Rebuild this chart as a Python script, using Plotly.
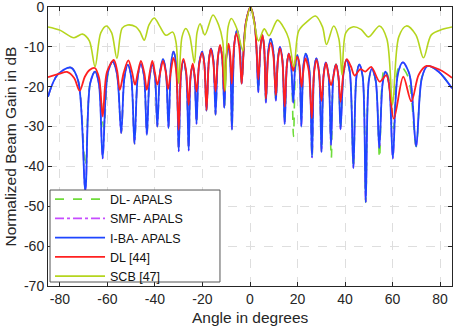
import plotly.graph_objects as go

# ---- data (angle in degrees, normalized gain in dB) ----

IBA_ANGLE = [-85, -81, -75.4, -72.3, -69.3, -67.3, -65.2, -63.6, -62.0, -59.9, -57.8, -56.0,
             -54.2, -52.8, -51.4, -50.0, -48.6, -47.2, -45.9, -44.6, -43.4, -42.2, -41.1, -40.0,
             -39.0, -37.8, -36.6, -35.4, -34.3, -33.2, -32.2, -31.1, -30.0, -29.0, -28.0, -26.9,
             -25.8, -25.0, -24.1, -23.3, -22.5, -21.4, -20.1, -19.2, -18.3, -17.3, -16.4, -15.4,
             -14.5, -13.5, -12.6, -11.7, -10.8, -10.0, -9.2, -8.4, -7.6, -6.5, -5.4, -4.4,
             -3.5, -2.6, -1.75, 0.2, 1.9, 2.7, 3.5, 4.4, 5.2, 5.95, 6.7, 7.7,
             8.7, 9.8, 10.9, 11.75, 12.6, 13.6, 14.6, 15.5, 16.3, 17.3, 18.2, 19.0,
             19.9, 20.8, 21.6, 22.5, 23.4, 24.8, 26.1, 27.0, 27.9, 29.0, 30.1, 31.0,
             31.9, 33.0, 34.1, 35.1, 36.2, 37.2, 38.1, 39.4, 40.6, 42.0, 43.5, 44.8,
             46.0, 47.4, 48.7, 50.0, 51.3, 52.9, 54.4, 55.8, 57.0, 58.5, 60.1, 62.2,
             64.3, 67.1, 69.9, 72.3, 74.7, 79.5, 85]
IBA_DB = [-22.5, -17.0, -15.2, -18.5, -46.0, -19.3, -16.2, -19.2, -38.0, -16.7, -13.7, -16.7,
          -31.6, -17.5, -14.5, -17.5, -34.3, -17.3, -14.3, -17.3, -32.1, -17.5, -14.5, -17.5,
          -30.0, -16.1, -13.1, -16.1, -30.4, -14.2, -11.2, -14.2, -36.2, -16.6, -13.6, -16.6,
          -36.0, -17.6, -14.6, -17.6, -29.3, -14.2, -11.2, -14.2, -26.0, -13.4, -10.4, -13.4,
          -27.0, -12.8, -9.8, -12.8, -25.3, -12.8, -9.8, -12.8, -30.8, -8.8, -5.8, -8.8,
          -19.2, -10.0, -4.0, 0.0, -4.0, -10.0, -21.4, -10.1, -7.1, -10.1, -24.0, -11.0,
          -8.0, -11.0, -23.5, -13.0, -10.0, -13.0, -29.4, -14.7, -11.7, -14.7, -24.0, -15.0,
          -12.0, -15.0, -30.0, -14.7, -11.7, -14.7, -37.75, -15.9, -12.9, -15.9, -36.4, -16.9,
          -13.9, -16.9, -34.6, -17.4, -14.4, -17.4, -30.7, -16.3, -13.3, -16.3, -40.4, -17.4,
          -14.4, -17.4, -49.0, -18.5, -15.5, -18.5, -35.4, -19.2, -16.2, -19.2, -38.0, -16.9,
          -13.9, -16.9, -35.0, -17.8, -14.8, -16.3, -20.4]

APALS_ANGLE = [-85, -81, -75.4, -72.3, -69.3, -67.3, -65.2, -63.4, -61.5, -59.7, -57.8, -56.0,
               -54.2, -52.8, -51.4, -50.0, -48.6, -47.2, -45.9, -44.6, -43.4, -42.2, -41.1, -40.0,
               -39.0, -37.8, -36.6, -35.4, -34.3, -33.2, -32.2, -31.1, -30.0, -29.0, -28.0, -26.9,
               -25.8, -25.0, -24.1, -23.3, -22.5, -21.4, -20.1, -19.2, -18.3, -17.3, -16.4, -15.4,
               -14.5, -13.5, -12.6, -11.7, -10.8, -10.0, -9.2, -8.4, -7.6, -6.5, -5.4, -4.4,
               -3.5, -2.6, -1.75, 0.2, 1.9, 2.7, 3.5, 4.4, 5.2, 5.95, 6.7, 7.7,
               8.7, 9.8, 10.9, 11.75, 12.6, 13.6, 14.6, 15.5, 16.3, 17.3, 18.3, 19.2,
               20.0, 20.8, 21.6, 22.5, 23.4, 24.8, 26.1, 27.0, 27.9, 29.0, 30.1, 31.0,
               31.9, 33.0, 34.2, 35.1, 36.2, 37.2, 38.1, 39.4, 40.6, 42.0, 43.5, 44.8,
               46.0, 47.4, 48.7, 50.0, 51.3, 52.9, 54.5, 55.6, 56.6, 58.6, 60.4, 61.6,
               63.0, 66.5, 69.9, 72.3, 74.7, 79.5, 85]
APALS_DB = [-22.5, -17.0, -15.2, -18.5, -40.0, -19.3, -16.2, -19.2, -30.5, -16.7, -13.7, -16.7,
            -31.6, -17.5, -14.5, -17.5, -34.3, -17.3, -14.3, -17.3, -32.1, -17.5, -14.5, -17.5,
            -30.0, -16.1, -13.1, -16.1, -30.4, -14.2, -11.2, -14.2, -36.2, -16.6, -13.6, -16.6,
            -36.0, -17.6, -14.6, -17.6, -29.3, -14.2, -11.2, -14.2, -26.0, -13.4, -10.4, -13.4,
            -27.0, -12.8, -9.8, -12.8, -26.0, -12.8, -9.8, -12.8, -30.8, -8.8, -5.8, -8.8,
            -19.2, -10.0, -4.0, 0.0, -4.0, -10.0, -21.4, -10.1, -7.1, -10.1, -24.0, -11.0,
            -8.0, -11.0, -23.5, -13.0, -10.0, -13.0, -29.4, -14.7, -11.7, -14.7, -32.5, -15.0,
            -12.3, -15.0, -28.0, -14.7, -11.7, -14.7, -37.75, -15.9, -12.9, -15.9, -36.4, -16.9,
            -13.9, -16.9, -38.0, -17.4, -14.4, -17.4, -30.7, -16.3, -13.3, -16.3, -40.4, -17.4,
            -14.4, -17.4, -49.0, -18.5, -15.5, -18.5, -38.0, -18.4, -15.4, -18.4, -30.5, -17.5,
            -14.6, -17.5, -35.0, -17.8, -14.8, -16.3, -20.4]

DL44_ANGLE = [-85, -80, -77.0, -74.0, -71.7, -69.5, -67.5, -65.3, -63.5, -62.0, -60.2, -57.3,
              -55.9, -54.8, -53.1, -51.2, -49.6, -48.4, -47.2, -45.9, -44.5, -43.4, -42.2, -41.1,
              -40.0, -39.0, -37.8, -36.6, -35.4, -34.5, -33.2, -32.2, -31.1, -30.0, -29.0, -28.0,
              -26.9, -25.8, -25.0, -24.1, -23.3, -22.5, -21.4, -20.2, -19.2, -18.3, -17.3, -16.5,
              -15.5, -14.5, -13.5, -12.6, -11.7, -10.8, -9.9, -9.0, -8.3, -7.7, -6.7, -5.8,
              -4.6, -3.5, -2.6, -1.75, 0.2, 1.9, 2.7, 3.5, 4.4, 5.2, 5.95, 6.7,
              7.7, 8.7, 9.8, 10.9, 11.75, 12.6, 13.6, 14.6, 15.5, 16.3, 17.3, 18.2,
              19.1, 19.9, 20.8, 21.7, 22.5, 23.3, 24.7, 26.0, 27.0, 28.0, 29.0, 30.1,
              31.0, 32.0, 33.0, 34.1, 35.1, 36.2, 37.2, 38.1, 39.4, 40.7, 42.4, 44.0,
              46.5, 48.5, 51.0, 54.6, 57.4, 60.5, 64.5, 67.9, 71.0, 74.3, 80.0, 85]
DL44_DB = [-17.6, -16.7, -16.3, -17.8, -21.0, -17.5, -15.8, -15.3, -17.8, -27.5, -16.3, -13.3,
           -16.0, -20.8, -16.4, -13.4, -16.4, -19.5, -16.5, -13.5, -16.5, -20.8, -16.5, -13.5,
           -16.5, -19.5, -16.5, -13.5, -16.5, -20.6, -15.8, -12.8, -15.8, -30.8, -16.0, -13.0,
           -16.0, -24.6, -17.2, -14.2, -17.2, -21.2, -14.5, -11.5, -14.5, -25.8, -13.5, -10.5,
           -13.5, -21.2, -12.5, -9.5, -12.5, -21.2, -12.2, -9.2, -12.2, -19.2, -9.7, -6.7,
           -9.7, -19.2, -10.0, -4.0, 0.0, -4.0, -10.0, -18.2, -10.0, -7.0, -10.0, -23.0,
           -12.0, -9.0, -12.0, -22.1, -13.4, -10.4, -13.4, -25.0, -14.7, -11.7, -14.0, -16.0,
           -13.5, -12.5, -14.5, -20.0, -15.9, -12.9, -15.9, -27.9, -16.3, -13.3, -16.3, -23.6,
           -17.0, -14.0, -17.0, -19.6, -17.4, -14.4, -17.4, -23.8, -16.1, -13.1, -14.8, -17.2,
           -15.6, -16.2, -15.0, -18.75, -17.1, -28.0, -17.5, -23.7, -17.0, -14.8, -15.8, -17.75]

SCB_ANGLE = [-85, -80, -74.1, -70.5, -67.6, -65.2, -62.8, -60.4, -58.2, -56.0, -53.8, -51.5,
             -48.0, -46.3, -44.5, -42.5, -40.3, -38.0, -35.4, -32.5, -31.1, -30.0, -28.6, -27.0,
             -25.4, -23.4, -22.3, -21.0, -19.0, -15.6, -13.2, -11.5, -10.4, -9.2, -7.8, -5.5,
             -3.0, -1.6, 0.2, 1.8, 3.6, 6.0, 8.0, 11.6, 14.5, 16.3, 18.5, 20.5,
             23.9, 27.6, 30.5, 32.2, 35.2, 37.4, 38.7, 40.3, 43.2, 46.7, 49.9, 54.5,
             57.6, 60.0, 62.6, 65.8, 69.8, 73.0, 76.3, 81.0, 85]
SCB_DB = [-5.0, -5.8, -7.7, -6.8, -8.5, -15.0, -6.5, -4.75, -6.5, -12.9, -5.3, -4.5,
          -5.0, -6.2, -8.3, -4.5, -2.75, -4.8, -7.1, -6.3, -9.0, -19.2, -7.5, -5.4,
          -7.2, -14.0, -6.5, -4.2, -7.0, -2.0, -4.5, -8.5, -21.0, -5.0, -2.9, -5.5,
          -11.0, -4.0, 0.0, -4.0, -8.5, -5.5, -7.2, -3.3, -5.5, -8.0, -15.0, -6.0,
          -3.75, -2.25, -5.0, -9.4, -4.75, -8.0, -17.0, -6.5, -5.0, -5.6, -7.5, -4.75,
          -8.0, -24.5, -7.5, -4.75, -7.0, -12.75, -7.0, -5.6, -5.0]

X_TICKS = [-80, -60, -40, -20, 0, 20, 40, 60, 80]
Y_TICKS = [-70, -60, -50, -40, -30, -20, -10, 0]

# plotted in this order, last one on top (same as legend order)
SERIES = [
    ("DL- APALS", APALS_ANGLE, APALS_DB, "#6fdc3a", "dash", 1.6),
    ("SMF- APALS", IBA_ANGLE, IBA_DB, "#c64cff", "dashdot", 1.6),
    ("I-BA- APALS", IBA_ANGLE, IBA_DB, "#1e46ff", "solid", 1.8),
    ("DL [44]", DL44_ANGLE, DL44_DB, "#ff2020", "solid", 1.8),
    ("SCB [47]", SCB_ANGLE, SCB_DB, "#b5d51e", "solid", 1.6),
]

_FONT = dict(family="Liberation Sans, Arial, sans-serif", size=14, color="#262626")
_GRID = "#dedede"
_AXIS = "#262626"
_CFG = {"displayModeBar": False}

fig = go.Figure()
for name, xs, ys, color, dash, width in SERIES:
    fig.add_trace(go.Scatter(
        x=xs, y=ys, name=name, mode="lines",
        line=dict(color=color, dash=dash, width=width, shape="spline", smoothing=0.9),
    ))

_axis = dict(
    showgrid=True, gridcolor=_GRID, griddash="dash", gridwidth=1,
    zeroline=False, showline=True, linecolor=_AXIS, linewidth=1, mirror="ticks",
    ticks="inside", ticklen=4, tickcolor=_AXIS, automargin=False,
    ticklabeloverflow="allow",
)

fig.update_layout(
    width=458, height=327,
    margin=dict(l=48, r=6, t=7, b=41),
    plot_bgcolor="white", paper_bgcolor="white",
    font=_FONT,
    showlegend=True,
    # legend box is drawn as a shape so it can match the reference's size
    legend=dict(
        x=0.005, y=0.172, xanchor="left", yanchor="middle",
        bgcolor="rgba(0,0,0,0)", borderwidth=0,
        font=dict(size=12.5, color="#111111"),
        itemwidth=50,
    ),
    shapes=[dict(
        type="rect", xref="paper", yref="paper", x0=0.005, x1=0.4257, y0=0.0143, y1=0.344,
        line=dict(color="#555555", width=1), fillcolor="white", layer="above",
    )],
    xaxis=dict(range=[-85, 85], tickvals=X_TICKS, ticktext=[str(v) for v in X_TICKS], **_axis),
    yaxis=dict(range=[-70, 0], tickvals=Y_TICKS, ticktext=[str(v) for v in Y_TICKS], **_axis),
    annotations=[
        dict(text="Angle in degrees", xref="paper", yref="paper", x=0.5, y=-0.112,
             xanchor="center", yanchor="middle", showarrow=False, font=dict(size=15.5)),
        dict(text="Normalized Beam Gain in dB", xref="paper", yref="paper", x=-0.094, y=0.5,
             xanchor="center", yanchor="middle", textangle=-90, showarrow=False,
             font=dict(size=15.5)),
    ],
)

# the page's default body margin would shift the figure by 8px
fig.write_html("out.html", config=_CFG, post_script="document.body.style.margin='0';")
